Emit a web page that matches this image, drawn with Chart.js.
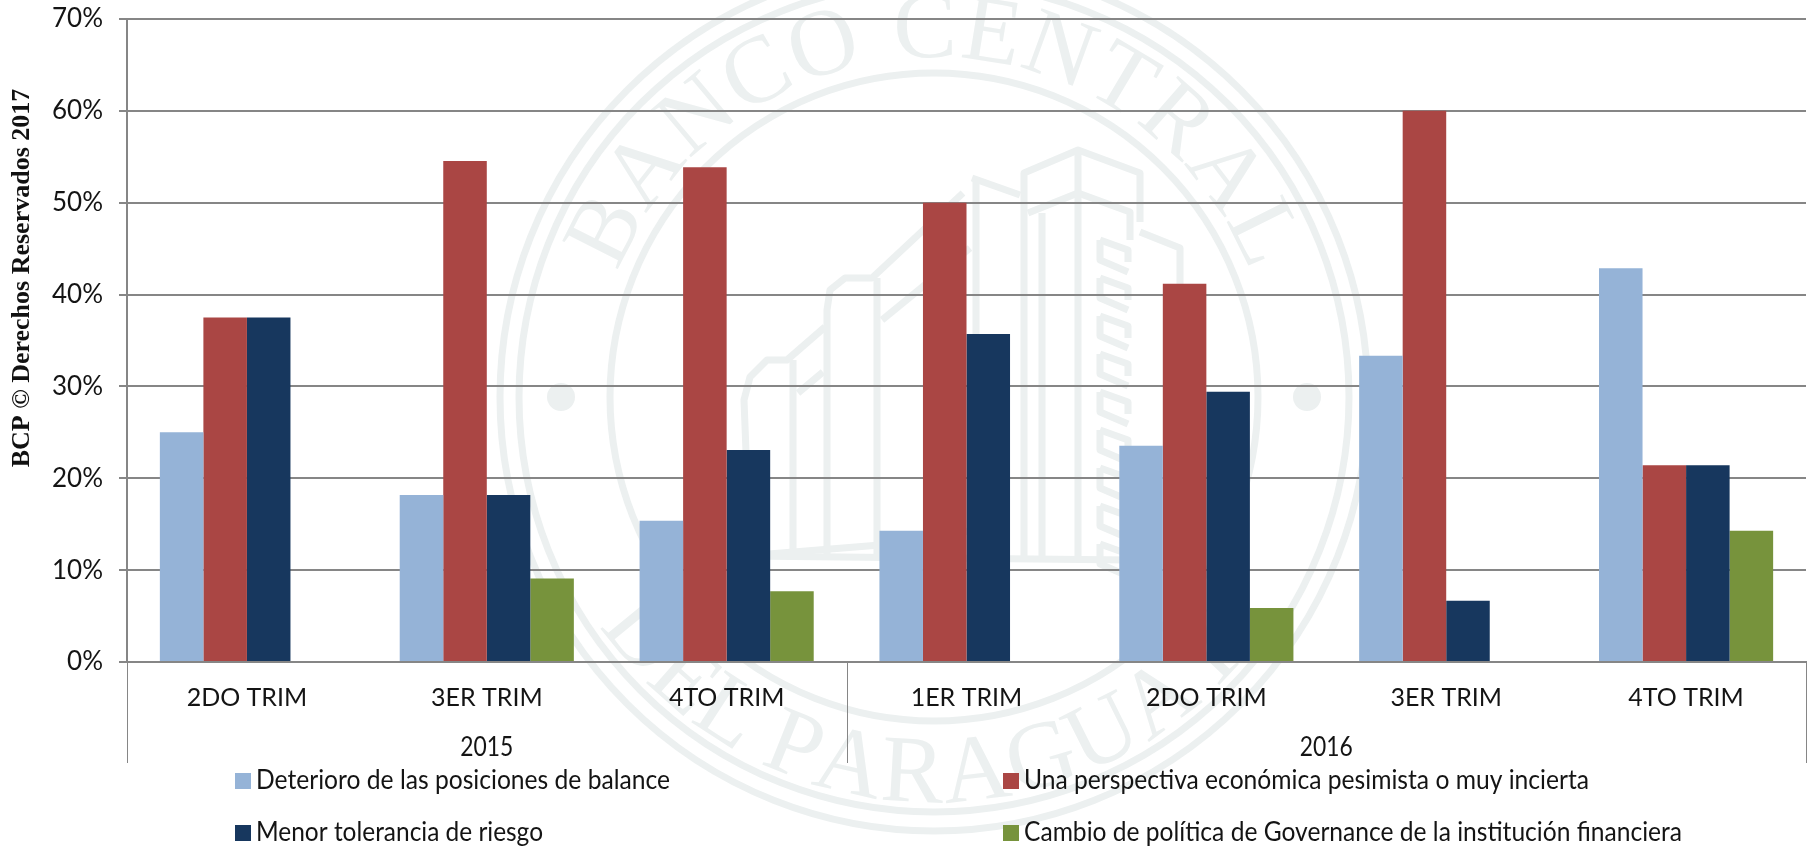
<!DOCTYPE html>
<html><head><meta charset="utf-8">
<style>html,body{margin:0;padding:0;background:#fff}canvas{display:block}</style>
<script src="https://cdn.jsdelivr.net/npm/chart.js@4"></script>
</head><body>
<canvas id="c" width="1811" height="847"></canvas>
<script>
const quarters = ["2DO TRIM","3ER TRIM","4TO TRIM","1ER TRIM","2DO TRIM","3ER TRIM","4TO TRIM"];
const seriesNames = ["Deterioro de las posiciones de balance","Una perspectiva económica pesimista o muy incierta","Menor tolerancia de riesgo","Cambio de política de Governance de la institución financiera"];
const deterioro = [25,18.18,15.38,14.29,23.53,33.33,42.86];
const perspectiva = [37.5,54.55,53.85,50,41.18,60,21.43];
const tolerancia = [37.5,18.18,23.08,35.71,29.41,6.67,21.43];
const governance = [0,9.09,7.69,0,5.88,0,14.29];
const colors = ["#95b3d7","#aa4644","#17375e","#77933c"];
const INK = "#141414", AXIS = "#868686", SEAL = "#ecf0f0";
const FONT = "Lato";

const seal = {
  id:"seal",
  beforeDraw(ch){
    const g = ch.ctx, cx = 934, cy = 397;
    g.save();
    g.fillStyle = "#fff"; g.fillRect(0,0,ch.width,ch.height);
    g.strokeStyle = SEAL; g.fillStyle = SEAL; g.lineWidth = 7; g.lineJoin = "round";
    [434,415,324].forEach(r=>{g.beginPath();g.arc(cx,cy,r,0,Math.PI*2);g.stroke();});
    [-373,373].forEach(d=>{g.beginPath();g.arc(cx+d,cy,14,0,Math.PI*2);g.fill();});
    const arcText=(txt,a0,a1,r,flip)=>{
      g.font = "95px 'Liberation Serif'"; g.textAlign="left"; g.textBaseline="alphabetic";
      const ws=[...txt].map(c=>g.measureText(c).width), tot=ws.reduce((a,b)=>a+b,0);
      const rMid=r+(flip?-32:32), span=Math.abs(a1-a0)*Math.PI/180*rMid;
      const gap=(span-tot)/(txt.length-1); let s=0;
      [...txt].forEach((c,i)=>{
        const mid=s+ws[i]/2, t=mid/span;
        const th=(a0+(a1-a0)*t)*Math.PI/180;
        g.save();
        g.translate(cx+r*Math.cos(th),cy+r*Math.sin(th));
        g.rotate(flip?th-Math.PI/2:th+Math.PI/2);
        g.fillText(c,-ws[i]/2,0);
        g.restore();
        s+=ws[i]+gap;
      });
    };
    arcText("BANCO CENTRAL",-158,-22,340,false);
    arcText("DEL PARAGUAY",146,38,405,true);
    const pl=(...p)=>{g.beginPath();p.forEach((v,i)=>i?g.lineTo(v[0],v[1]):g.moveTo(v[0],v[1]));g.stroke();};
    // tower
    pl([1024,560],[1024,173],[1078,150],[1140,173],[1140,222]);
    pl([1078,150],[1078,560]);
    pl([1028,213],[1078,193],[1130,212],[1130,240]);
    pl([1042,213],[1042,560]);
    pl([972,178],[1020,195]);
    pl([976,178],[976,560]);
    pl([1140,232],[1180,248],[1180,540]);
    // hatched column
    for(let y=240;y<545;y+=38){
      pl([1100,y],[1100,y+20],[1128,y+32]);
      pl([1100,y],[1128,y+10],[1128,y+22]);
    }
    // stepped blocks
    pl([827,556],[827,310],[830,290],[845,278],[872,278],[963,193]);
    pl([877,278],[877,556]);
    pl([882,320],[970,248]);
    pl([750,556],[744,400],[750,377],[767,360],[787,360],[825,327]);
    pl([793,360],[793,556]);
    pl([798,393],[823,372]);
    pl([744,556],[880,545],[976,530]);
    pl([744,556],[1130,560]);
    g.restore();
  }
};

const decorations = {
  id:"decorations",
  afterDraw(ch){
    const g = ch.ctx, x = ch.scales.x, y0 = ch.scales.y.bottom;
    g.save();
    const sep = (x.getPixelForValue(2)+x.getPixelForValue(3))/2;
    g.strokeStyle = AXIS; g.lineWidth = 1;
    [x.left,sep,x.right].forEach(px=>{
      const p=Math.round(px)+.5;
      g.beginPath();g.moveTo(p,y0);g.lineTo(p,y0+101);g.stroke();
    });
    g.fillStyle = INK; g.textAlign="center"; g.textBaseline="middle";
    g.font = `26px ${FONT}`;
    g.fillText("2015",x.getPixelForValue(1),y0+86,53);
    g.fillText("2016",(x.getPixelForValue(4)+x.getPixelForValue(5))/2,y0+86,53);
    // legend
    const cols=[235,1003], rows=[781,833], widths=[414,565,287,658];
    ch.data.datasets.forEach((d,i)=>{
      const lx=cols[i%2], ly=rows[Math.floor(i/2)];
      g.fillStyle=d.backgroundColor; g.fillRect(lx,ly-8,16,16);
      g.fillStyle=INK; g.textAlign="left"; g.textBaseline="middle";
      g.font=`26px ${FONT}`;
      g.fillText(d.label,lx+21,ly,widths[i]);
    });
    // side note
    g.translate(22,278); g.rotate(-Math.PI/2);
    g.fillStyle="#111"; g.textAlign="center"; g.textBaseline="middle";
    g.font="bold 26px 'Liberation Serif'";
    g.fillText("BCP © Derechos Reservados 2017",0,0,379);
    g.restore();
  }
};

new Chart(document.getElementById("c"),{
  type:"bar",
  data:{labels:quarters,datasets:[deterioro,perspectiva,tolerancia,governance].map((v,i)=>({
    label:seriesNames[i],data:v,backgroundColor:colors[i],borderWidth:0,barPercentage:1,categoryPercentage:.726
  }))},
  options:{
    responsive:false,animation:false,
    layout:{padding:{top:19,right:5,left:0,bottom:0}},
    plugins:{legend:{display:false},title:{display:false},tooltip:{enabled:false}},
    scales:{
      x:{
        grid:{display:false,drawTicks:false},
        border:{color:AXIS,width:2},
        ticks:{color:INK,font:{family:FONT,size:25},padding:21,maxRotation:0,autoSkip:false},
        afterFit(s){s.height=185;s.paddingLeft=0;s.paddingRight=0;}
      },
      y:{
        min:0,max:70,
        grid:{color:AXIS,lineWidth:2,tickLength:8,drawTicks:true},
        border:{color:AXIS,width:2},
        ticks:{stepSize:10,color:INK,font:{family:FONT,size:26},padding:16,callback:v=>v+"%"},
        afterFit(s){s.width=127;s.paddingTop=0;s.paddingBottom=0;}
      }
    }
  },
  plugins:[seal,decorations]
});
</script>
</body></html>
